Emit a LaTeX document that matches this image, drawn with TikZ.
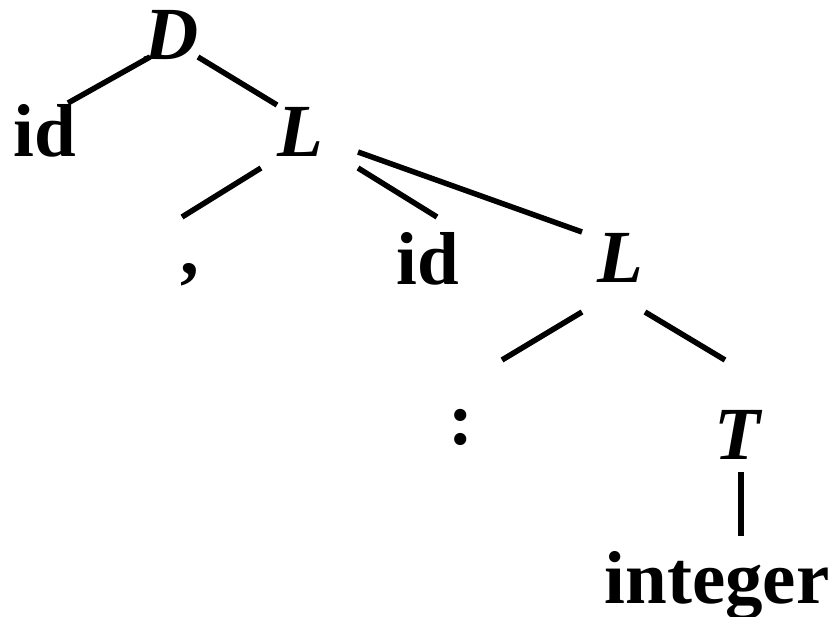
\documentclass[tikz,border=0pt]{standalone}
\usepackage{fontspec}
\setmainfont{Liberation Serif}
\usetikzlibrary{positioning,calc}
\tikzset{
  tok/.style={inner sep=0pt,text height=50pt,text depth=0pt,font=\fontsize{75}{80}\selectfont\bfseries},
  nt/.style={tok,font=\fontsize{75}{80}\selectfont\bfseries\itshape},
  edge/.style={draw=black,line width=5.5pt},
}

\begin{document}
\begin{tikzpicture}[x=1pt,y=-1pt]
\useasboundingbox (0,0) rectangle (831,617);
\node[nt]  (D)   at (172,35)  {D};
\node[tok] (idA) at (45,132)  {id};
\node[nt]  (La)  at (300,132) {L};
\node[tok] (cm)  at (190,250) {,};
\node[tok] (idB) at (428,260) {id};
\node[nt]  (Lb)  at (620,258) {L};
\node[tok] (cl)  at (461,420) {:};
\node[nt]  (T)   at (737,435) {T};
\node[tok] (int) at (717,579) {integer};
% branches
\draw[edge] ([shift={(-22,22)}]D.center) -- ([shift={(23,-29)}]idA.center);
\draw[edge] ([shift={(26,22)}]D.center) -- ([shift={(-23,-27)}]La.center);
\draw[edge] ([shift={(-39,36)}]La.center) -- ([shift={(-8,-33)}]cm.center);
\draw[edge] ([shift={(58,36)}]La.center) -- ([shift={(9,-43)}]idB.center);
\draw[edge] ([shift={(58,20)}]La.center) -- ([shift={(-38,-26)}]Lb.center);
\draw[edge] ([shift={(-38,54)}]Lb.center) -- ([shift={(41,-60)}]cl.center);
\draw[edge] ([shift={(25,54)}]Lb.center) -- ([shift={(-12,-75)}]T.center);
\draw[edge] ([shift={(4,37)}]T.center) -- ([shift={(24,-43)}]int.center);
\end{tikzpicture}
\end{document}
